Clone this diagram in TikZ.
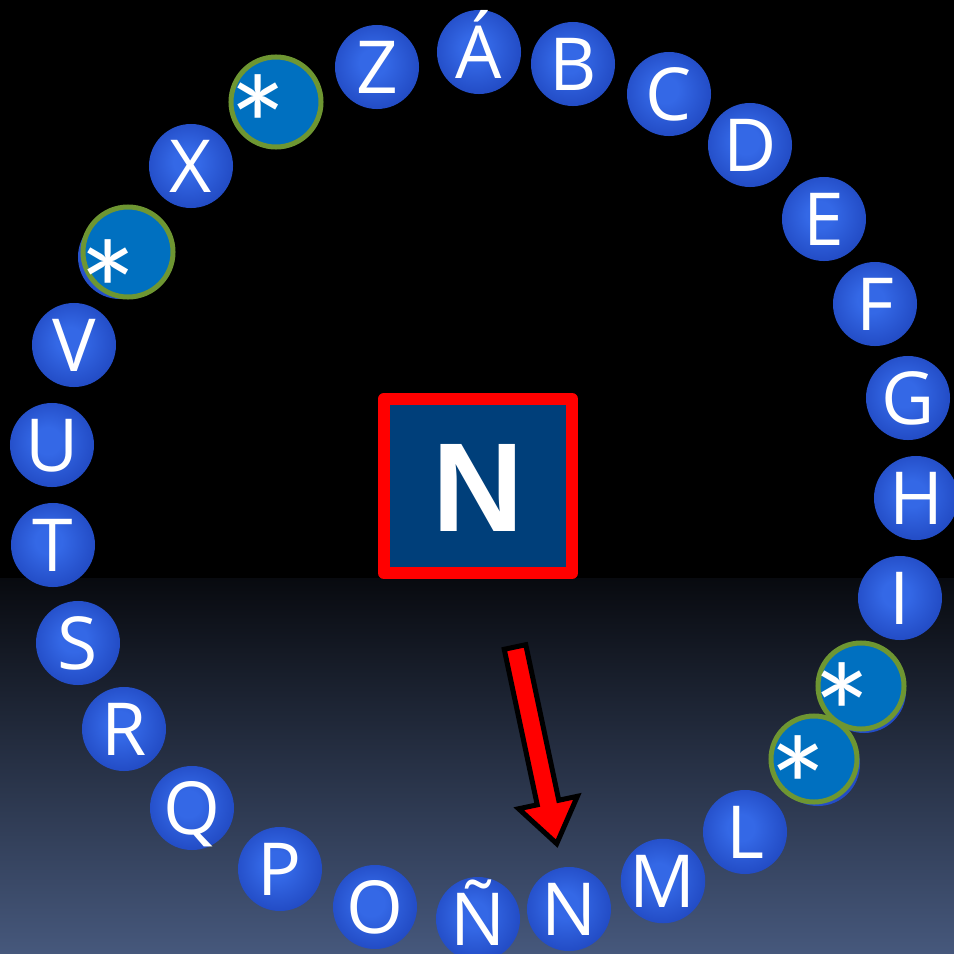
\documentclass[tikz,border=0pt]{standalone}
\usepackage{fontspec}
\usepackage{tikz}
\newfontfamily\ballfont{Open Sans}
\newfontfamily\jokerfont{Carlito}
\newfontfamily\boxfont{Liberation Sans}
\definecolor{mball}{RGB}{52,104,230}
\definecolor{mballedge}{RGB}{16,46,162}
\definecolor{mjoker}{RGB}{0,112,192}
\definecolor{mgreen}{RGB}{110,150,50}
\definecolor{mbox}{RGB}{0,63,122}
\definecolor{mred}{RGB}{255,0,0}
\definecolor{mbgtop}{RGB}{8,10,15}
\definecolor{mbgbot}{RGB}{70,88,124}
\pgfdeclareradialshading{ballshade}{\pgfpoint{-3bp}{3bp}}{color(0bp)=(mball); color(8bp)=(mball); color(46bp)=(mballedge); color(50bp)=(mballedge)}
\tikzset{ball/.style = {circle, inner sep = 0, minimum size = 2.1cm, shade, shading = ballshade, text = white, font = \ballfont\fontsize{52}{52}\selectfont, text height = 37.5pt, text depth = 0pt}}
\tikzset{joker/.style = {circle, inner sep = 0, minimum size = 2.15cm, fill = mjoker, draw = mgreen, line width = 0.125cm}}
\tikzset{ast/.style = {anchor = north, inner sep = 0, text = white, font = \jokerfont\fontsize{102}{102}\selectfont}}
\tikzset{box/.style = {rectangle, inner sep = 0, minimum width = 4.7cm, minimum height = 4.35cm, fill = mbox, draw = mred, line width = 0.3cm, line join = round, text = white, font = \boxfont\bfseries\fontsize{90}{90}\selectfont, text height = 64.5pt, text depth = 0pt}}
\tikzset{blockarrow/.style = {fill = mred, draw = black, line width = 0.125cm, line join = miter}}

\begin{document}
\begin{tikzpicture}[x = 0.025cm, y = -0.025cm]
      \useasboundingbox (0, 0) rectangle (954, 954);
      \clip (0, 0) rectangle (954, 954);
      \fill [black] (0, 0) rectangle (954, 580);
      \shade [top color = mbgtop, bottom color = mbgbot] (0, 578) rectangle (954, 954);

      % hidden balls under the jokers
      \node [ball] (w) at (120, 257) {};
      \node [ball] (j) at (864, 691) {};
      \node [ball] (k) at (818, 764) {};

      \node [ball] (a) at (479, 52) {Á};
      \node [ball] (b) at (573, 64) {B};
      \node [ball] (c) at (669, 94) {C};
      \node [ball] (d) at (750, 145) {D};
      \node [ball] (e) at (824, 219) {E};
      \node [ball] (f) at (875, 304) {F};
      \node [ball] (g) at (908, 398) {G};
      \node [ball] (h) at (916, 498) {H};
      \node [ball] (i) at (900, 598) {I};
      \node [ball] (l) at (745, 832) {L};
      \node [ball] (m) at (663, 881) {M};
      \node [ball] (n) at (569, 909) {N};
      \node [ball] (nn) at (478, 919) {Ñ};
      \node [ball] (o) at (375, 907) {O};
      \node [ball] (p) at (280, 869) {P};
      \node [ball] (q) at (192, 808) {Q};
      \node [ball] (r) at (124, 729) {R};
      \node [ball] (s) at (78, 643) {S};
      \node [ball] (t) at (53, 545) {T};
      \node [ball] (u) at (52, 445) {U};
      \node [ball] (v) at (74, 345) {V};
      \node [ball] (x) at (191, 166) {X};
      \node [ball] (z) at (377, 67) {Z};

      \node [joker, minimum size = 2.25cm] (jk1) at (276, 102) {};
      \node [ast] (ast1) at (258, 74) {*};
      \node [joker, minimum size = 2.25cm] (jk2) at (128, 252) {};
      \node [ast] (ast2) at (108, 239) {*};
      \node [joker] (jk3) at (861, 686) {};
      \node [ast] (ast3) at (842, 662) {*};
      \node [joker] (jk4) at (814, 759) {};
      \node [ast] (ast4) at (798, 735) {*};

      \node [box] (cur) at (478, 486) {N};

      \begin{scope}[shift = {(515, 647)}, rotate = -78.02]
        \draw [blockarrow] (0, -11) -- (159, -11) -- (159, -30) -- (201, 0)
          -- (159, 30) -- (159, 11) -- (0, 11) -- cycle;
      \end{scope}
    \end{tikzpicture}
\end{document}
